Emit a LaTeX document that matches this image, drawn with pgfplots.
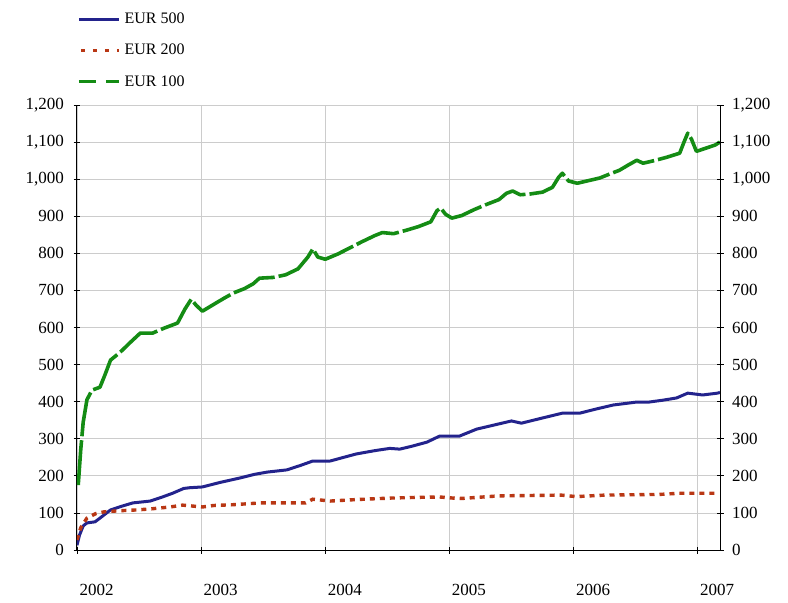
\documentclass[border=0pt]{standalone}
\usepackage{fontspec}
\setmainfont{Liberation Serif}
\usepackage{pgfplots}
\pgfplotsset{compat=1.18}
\definecolor{cblue}{RGB}{35,35,140}
\definecolor{cred}{RGB}{185,55,20}
\definecolor{cgreen}{RGB}{20,140,20}
\pgfplotsset{
  legsolid/.style={legend image code/.code={\draw[##1, line width=3bp] (0bp,0bp) -- (40bp,0bp);}},
  legred/.style={legend image code/.code={\draw[##1, line width=3.4bp, dash pattern=on 4bp off 8bp] (2bp,0bp) -- (40bp,0bp);}},
  leggreen/.style={legend image code/.code={\draw[##1, line width=3.4bp, dash pattern=on 17bp off 10bp] (0bp,0bp) -- (40bp,0bp);}},
  common/.style={
    width=643bp, height=445bp, scale only axis,
    xmin=2002, xmax=2007.18, ymin=0, ymax=1200,
    ytick={0,100,...,1200},
    tick align=center, major tick length=7bp,
    tick style={black, line width=0.8bp},
    axis line style={black, line width=1bp, -},
    tick label style={font=\fontsize{17bp}{20bp}\selectfont},
    /pgf/number format/assume math mode=true,
    /pgf/number format/1000 sep={,},
  }
}
\begin{document}
\begin{tikzpicture}
\path[use as bounding box] (-77bp,-53bp) rectangle (711bp,550bp);
\begin{axis}[common,
  axis x line*=bottom, axis y line*=left,
  xtick={2002,2003,2004,2005,2006,2007},
  xticklabels={2002,2003,2004,2005,2006,2007},
  xticklabel style={anchor=north west, yshift=-27bp, xshift=-1bp},
  yticklabel style={xshift=-6bp},
  grid=major, major grid style={gray!40, line width=0.8bp},
  legend cell align=left,
  legend style={draw=none, fill=none, at={(axis description cs:0,1)}, anchor=north west,
    xshift=0bp, yshift=94bp, inner sep=0pt, row sep=15bp,
    font=\fontsize{16bp}{19bp}\selectfont,
    nodes={inner xsep=4bp}},
]
\addplot[cblue, line width=3bp, line join=round, legsolid] coordinates {
(2002.00,13) (2002.02,40) (2002.05,65) (2002.08,73) (2002.145,76) (2002.185,86)
(2002.27,108) (2002.36,118) (2002.45,127) (2002.59,132) (2002.68,142) (2002.77,153)
(2002.86,166) (2002.91,168) (2003.01,170) (2003.15,182) (2003.31,194) (2003.43,204)
(2003.53,210) (2003.69,216) (2003.80,228) (2003.90,240) (2004.04,240) (2004.15,250)
(2004.25,259) (2004.40,268) (2004.52,274) (2004.60,272) (2004.70,280) (2004.82,291)
(2004.92,307) (2005.08,307) (2005.22,326) (2005.36,337) (2005.50,348) (2005.58,342)
(2005.75,356) (2005.91,369) (2006.05,369) (2006.18,380) (2006.32,391) (2006.51,399)
(2006.61,399) (2006.72,404) (2006.83,410) (2006.92,423) (2007.04,418) (2007.16,423)
(2007.18,425)
};
\addlegendentry{EUR 500}
\addplot[cred, line width=3.4bp, dash pattern=on 5bp off 5bp, legred] coordinates {
(2002.00,27) (2002.03,60) (2002.08,86) (2002.15,98) (2002.22,103) (2002.35,106)
(2002.48,108) (2002.60,111) (2002.75,116) (2002.85,121) (2003.01,116) (2003.10,120)
(2003.25,122) (2003.48,127) (2003.70,127) (2003.84,127) (2003.90,137) (2004.04,132)
(2004.25,136) (2004.52,140) (2004.75,142) (2004.92,143) (2005.03,140) (2005.10,139)
(2005.40,146) (2005.90,148) (2006.02,144) (2006.25,148) (2006.70,150) (2006.85,153)
(2007.15,153)
};
\addlegendentry{EUR 200}
\addplot[cgreen, line width=3.6bp, line join=round, dash pattern=on 45bp off 4bp, leggreen] coordinates {
(2002.01,175) (2002.03,270) (2002.05,345) (2002.08,405) (2002.12,431) (2002.185,439)
(2002.225,472) (2002.27,512) (2002.35,534) (2002.43,560) (2002.51,585) (2002.61,585)
(2002.70,598) (2002.81,612) (2002.87,650) (2002.92,676) (2002.96,660) (2003.01,644)
(2003.10,662) (2003.18,678) (2003.26,693) (2003.35,705) (2003.42,718) (2003.47,733)
(2003.58,735) (2003.68,742) (2003.78,758) (2003.86,790) (2003.90,812) (2003.94,790)
(2004.00,784) (2004.10,798) (2004.20,815) (2004.30,832) (2004.40,848) (2004.46,856)
(2004.55,853) (2004.65,862) (2004.75,872) (2004.85,885) (2004.90,915) (2004.93,922)
(2004.97,905) (2005.02,895) (2005.10,902) (2005.20,918) (2005.30,932) (2005.40,945)
(2005.46,962) (2005.51,968) (2005.57,958) (2005.65,960) (2005.75,965) (2005.83,978)
(2005.88,1005) (2005.91,1016) (2005.96,995) (2006.03,989) (2006.12,996) (2006.21,1003)
(2006.30,1015) (2006.37,1024) (2006.44,1038) (2006.51,1051) (2006.56,1043) (2006.65,1050)
(2006.75,1059) (2006.855,1070) (2006.89,1100) (2006.92,1124) (2006.95,1108) (2006.99,1075)
(2007.07,1084) (2007.14,1092) (2007.18,1100)
};
\addlegendentry{EUR 100}
\end{axis}
\begin{axis}[common,
  axis x line=none, axis y line*=right,
  yticklabel style={xshift=5bp},
]
\end{axis}
\end{tikzpicture}
\end{document}
